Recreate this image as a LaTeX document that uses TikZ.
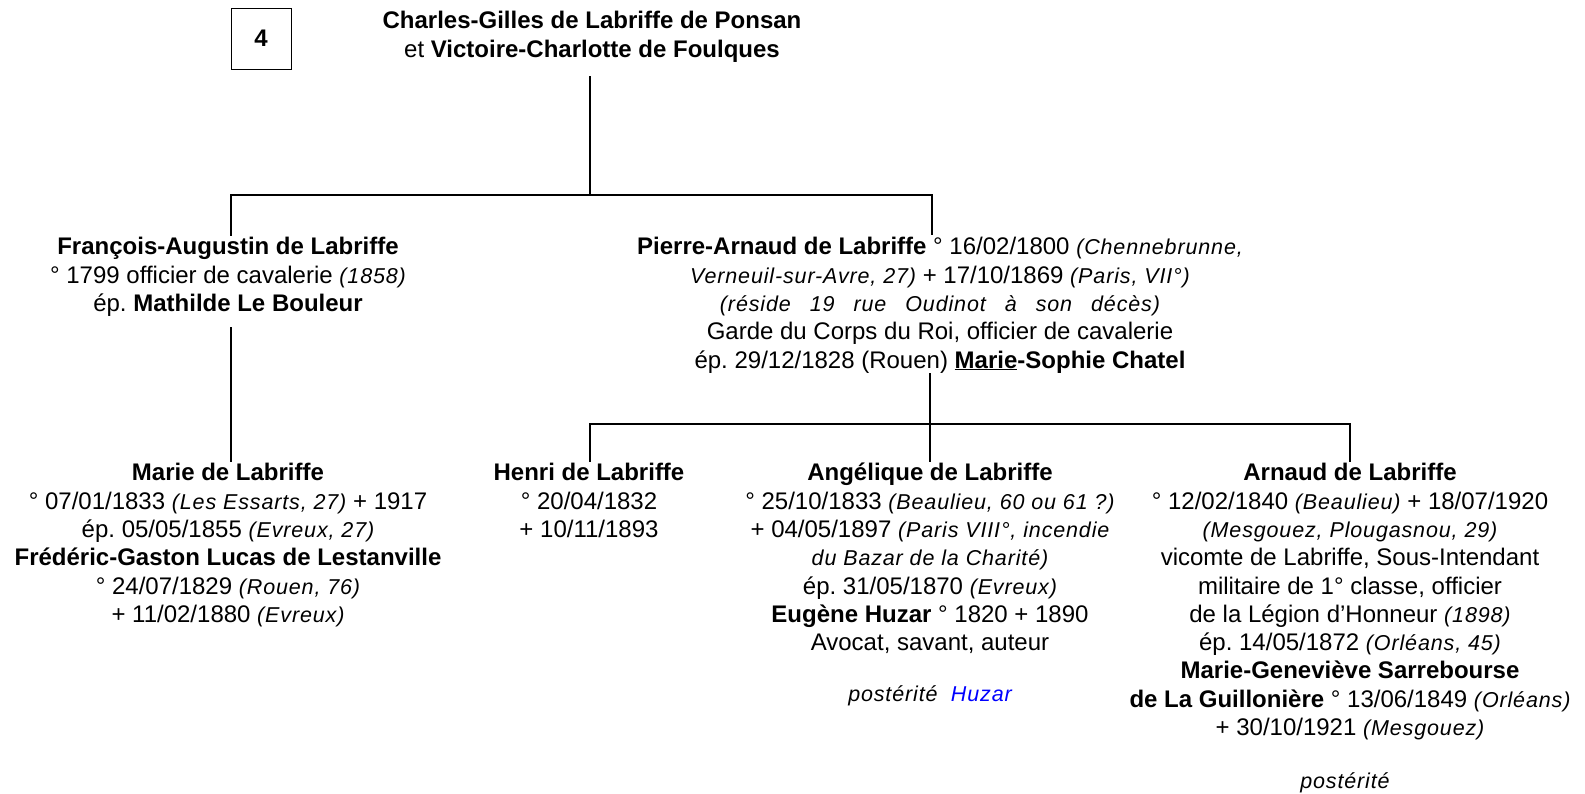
\documentclass[tikz,border=0pt]{standalone}
\usepackage{fontspec}
\setmainfont{Liberation Sans}
\newfontfamily\plfont{Liberation Sans}[LetterSpace=4]
\newcommand{\pl}[1]{{\plfont\fontsize{21.5}{28.3}\selectfont\itshape #1}}
\newcommand{\plw}[1]{{\plfont\fontsize{21.5}{28.3}\selectfont\itshape\spaceskip=19pt #1}}
\frenchspacing
\begin{document}
\begin{tikzpicture}[x=1pt,y=-1pt,
  blk/.style={inner sep=0pt, anchor=north, align=center, font=\fontsize{24}{28.3}\selectfont},
  conn/.style={line width=1.9pt, line cap=rect},
  numbox/.style={draw, line width=1pt, minimum width=60pt, minimum height=61pt, inner sep=0pt, font=\fontsize{24}{28}\selectfont\bfseries}]
\fill[white] (0,0) rectangle (1585,793);
\useasboundingbox (0,0) rectangle (1585,793);

\node[numbox] (num) at (261,38.5) {4};

\node[blk] (couple) at (592,8.8) {\strut\textbf{Charles-Gilles de Labriffe de Ponsan}\\
et \textbf{Victoire-Charlotte de Foulques}};

\node[blk] (fa) at (228,234.8) {\strut\textbf{François-Augustin de Labriffe}\\
° 1799 officier de cavalerie \pl{(1858)}\\
ép. \textbf{Mathilde Le Bouleur}};

\node[blk] (pa) at (940,234.8) {\strut\textbf{Pierre-Arnaud de Labriffe} ° 16/02/1800 \pl{(Chennebrunne,}\\
\pl{Verneuil-sur-Avre, 27)} + 17/10/1869 \pl{(Paris, VII°)}\\
\plw{(réside 19 rue Oudinot à son décès)}\\
Garde du Corps du Roi, officier de cavalerie\\
ép. 29/12/1828 (Rouen) \underline{\textbf{Marie}}\textbf{-Sophie Chatel}};

\node[blk] (ma) at (228,460.8) {\strut\textbf{Marie de Labriffe}\\
° 07/01/1833 \pl{(Les Essarts, 27)} + 1917\\
ép. 05/05/1855 \pl{(Evreux, 27)}\\
\textbf{Frédéric-Gaston Lucas de Lestanville}\\
° 24/07/1829 \pl{(Rouen, 76)}\\
+ 11/02/1880 \pl{(Evreux)}};

\node[blk] (he) at (589,460.8) {\strut\textbf{Henri de Labriffe}\\
° 20/04/1832\\
+ 10/11/1893};

\node[blk] (an) at (930,460.8) {\strut\textbf{Angélique de Labriffe}\\
° 25/10/1833 \pl{(Beaulieu, 60 ou 61 ?)}\\
+ 04/05/1897 \pl{(Paris VIII°, incendie}\\
\pl{du Bazar de la Charité)}\\
ép. 31/05/1870 \pl{(Evreux)}\\
\textbf{Eugène Huzar} ° 1820 + 1890\\
Avocat, savant, auteur};

\node[blk] (anp) at (930,681.8) {\strut\pl{postérité}~ \textcolor{blue}{\pl{Huzar}}};

\node[blk] (ar) at (1350,460.8) {\strut\textbf{Arnaud de Labriffe}\\
° 12/02/1840 \pl{(Beaulieu)} + 18/07/1920\\
\pl{(Mesgouez, Plougasnou, 29)}\\
vicomte de Labriffe, Sous-Intendant\\
militaire de 1° classe, officier\\
de la Légion d’Honneur \pl{(1898)}\\
ép. 14/05/1872 \pl{(Orléans, 45)}\\
\textbf{Marie-Geneviève Sarrebourse}\\
\textbf{de La Guillonière} ° 13/06/1849 \pl{(Orléans)}\\
+ 30/10/1921 \pl{(Mesgouez)}};

\node[blk] (arp) at (1345,768.8) {\strut\pl{postérité}};

% connectors
\coordinate (t0) at (590,77);
\coordinate (t1) at (590,195);
\coordinate (bl) at (231,195);
\coordinate (br) at (932,195);
\draw[conn] (t0) -- (t1);
\draw[conn] (bl) -- (br);
\draw[conn] (bl) -- (bl |- fa.north);
\draw[conn] (br) -- (932,234);

\coordinate (f0) at (231,328);
\coordinate (f1) at (231,461);
\draw[conn] (f0) -- (f1);

\coordinate (p0) at (930,374);
\coordinate (p1) at (930,424);
\coordinate (cl) at (590,424);
\coordinate (cr) at (1350,424);
\draw[conn] (p0) -- (p1);
\draw[conn] (cl) -- (cr);
\draw[conn] (cl) -- (cl |- he.north);
\draw[conn] (p1) -- (p1 |- an.north);
\draw[conn] (cr) -- (cr |- ar.north);
\end{tikzpicture}
\end{document}
